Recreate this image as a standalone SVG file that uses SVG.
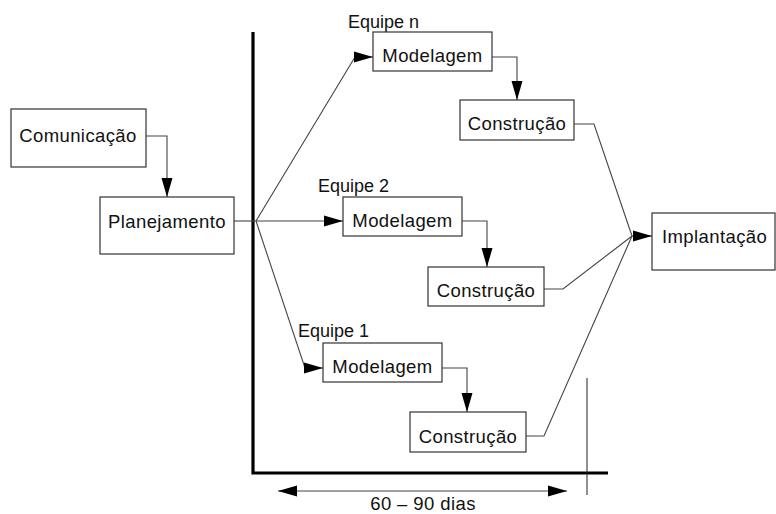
<svg xmlns="http://www.w3.org/2000/svg" width="776" height="514" viewBox="0 0 776 514">
<style>
.box{fill:#fff;stroke:#333;stroke-width:1.2}
.t{font-family:"Liberation Sans",Arial,sans-serif;font-size:18.5px;letter-spacing:0.4px;fill:#111}
.lbl{font-family:"Liberation Sans",Arial,sans-serif;font-size:18px;fill:#111}
.c{fill:none;stroke:#444;stroke-width:1.1}
.axis{fill:none;stroke:#000;stroke-width:3.2}
</style>
<defs>
<marker id="ah" markerUnits="userSpaceOnUse" markerWidth="20" markerHeight="12" refX="19" refY="6" orient="auto-start-reverse">
<path d="M0,0.5 L19,6 L0,11.5 z" fill="#000"/>
</marker>
</defs>
<g id="axes">
<path class="axis" d="M253,32 V473 H608"/>
<line x1="587" y1="378" x2="587" y2="495" stroke="#222" stroke-width="1"/>
</g>
<g id="connectors">
<path class="c" d="M146,136 H167 V197" marker-end="url(#ah)"/>
<path class="c" d="M234,221 H256"/>
<path class="c" d="M256,221 L355,57 H373" marker-end="url(#ah)"/>
<path class="c" d="M256,221 H343" marker-end="url(#ah)"/>
<path class="c" d="M256,221 L305,368 H323" marker-end="url(#ah)"/>
<path class="c" d="M492,57 H517 V100" marker-end="url(#ah)"/>
<path class="c" d="M462,221 H487 V267" marker-end="url(#ah)"/>
<path class="c" d="M442,368 H467 V412" marker-end="url(#ah)"/>
<path class="c" d="M574,124 H594 L632,236"/>
<path class="c" d="M544,289 H563 L632,236"/>
<path class="c" d="M526,436 H544 L632,236"/>
<path class="c" d="M632,236 H652" marker-end="url(#ah)"/>
<path class="c" d="M278,491 H567" stroke="#000" marker-start="url(#ah)" marker-end="url(#ah)"/>
</g>
<g id="comunicacao">
<rect class="box" x="11" y="109" width="135" height="58"/>
<text class="t" x="78" y="142" text-anchor="middle">Comunicação</text>
</g>
<g id="planejamento">
<rect class="box" x="100" y="197" width="134" height="57"/>
<text class="t" x="167" y="228" text-anchor="middle">Planejamento</text>
</g>
<g id="equipe-n">
<text class="lbl" x="348" y="28" font-size="15.5">Equipe n</text>
</g>
<g id="modelagem-n">
<rect class="box" x="373" y="32" width="119" height="39"/>
<text class="t" x="432.5" y="62" text-anchor="middle">Modelagem</text>
</g>
<g id="construcao-n">
<rect class="box" x="460" y="100" width="114" height="40"/>
<text class="t" x="517" y="130" text-anchor="middle">Construção</text>
</g>
<g id="equipe-2">
<text class="lbl" x="318" y="192">Equipe 2</text>
</g>
<g id="modelagem-2">
<rect class="box" x="343" y="197" width="119" height="39"/>
<text class="t" x="402.5" y="227" text-anchor="middle">Modelagem</text>
</g>
<g id="construcao-2">
<rect class="box" x="428" y="267" width="116" height="39"/>
<text class="t" x="486" y="297" text-anchor="middle">Construção</text>
</g>
<g id="equipe-1">
<text class="lbl" x="298" y="337">Equipe 1</text>
</g>
<g id="modelagem-1">
<rect class="box" x="323" y="343" width="119" height="39"/>
<text class="t" x="382.5" y="373" text-anchor="middle">Modelagem</text>
</g>
<g id="construcao-1">
<rect class="box" x="410" y="412" width="116" height="40"/>
<text class="t" x="468" y="443" text-anchor="middle">Construção</text>
</g>
<g id="implantacao">
<rect class="box" x="652" y="213" width="123" height="57"/>
<text class="t" x="662" y="243">Implantação</text>
</g>
<g id="duracao">
<text class="t" x="423" y="510" text-anchor="middle">60 – 90 dias</text>
</g>
</svg>
